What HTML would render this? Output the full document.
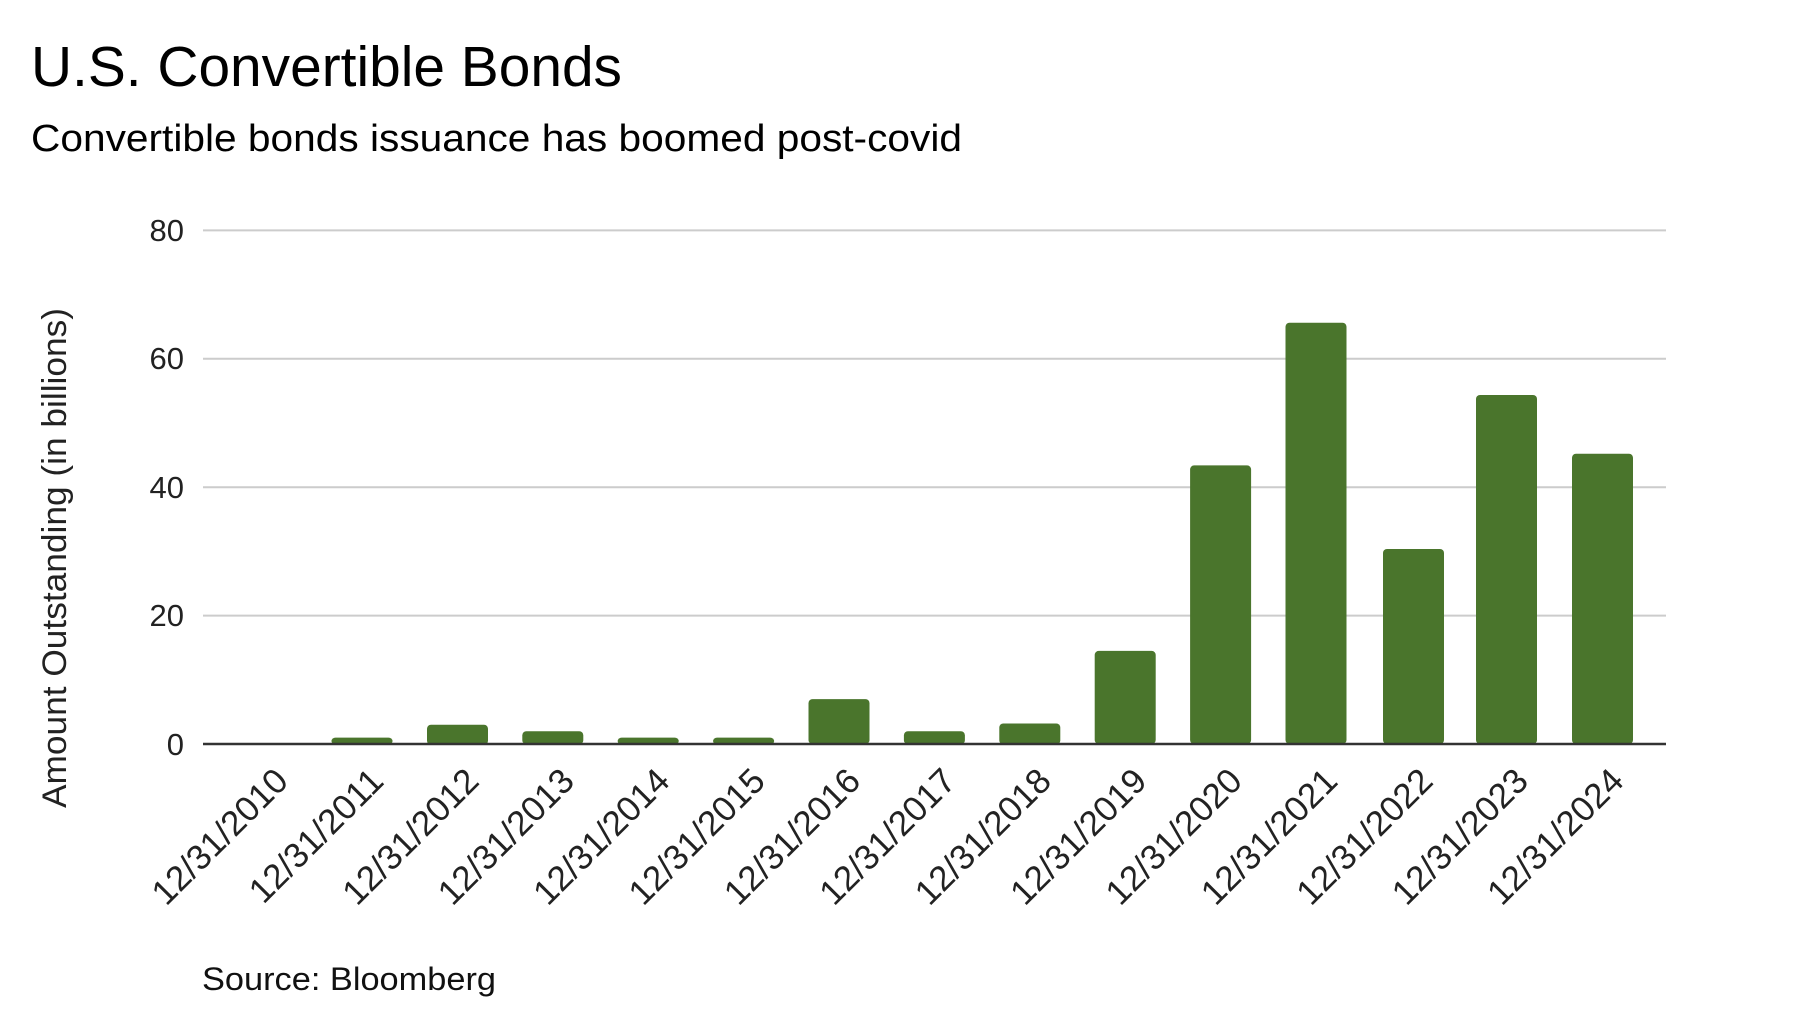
<!DOCTYPE html>
<html><head><meta charset="utf-8"><style>
html,body{margin:0;padding:0;background:#fff;}
svg{display:block;font-family:"Liberation Sans",sans-serif;}
</style></head><body>
<svg width="1804" height="1030" viewBox="0 0 1804 1030" xmlns="http://www.w3.org/2000/svg">
<text x="31" y="86" font-size="57" fill="#000" textLength="591" lengthAdjust="spacingAndGlyphs">U.S. Convertible Bonds</text>
<text x="31" y="151" font-size="38" fill="#000" textLength="931" lengthAdjust="spacingAndGlyphs">Convertible bonds issuance has boomed post-covid</text>
<g stroke="#cccccc" stroke-width="2">
<line x1="203" x2="1666" y1="230.4" y2="230.4"/>
<line x1="203" x2="1666" y1="358.8" y2="358.8"/>
<line x1="203" x2="1666" y1="487.2" y2="487.2"/>
<line x1="203" x2="1666" y1="615.6" y2="615.6"/>
</g>
<g font-size="31" fill="#222" text-anchor="end">
<text x="184" y="241">80</text>
<text x="184" y="369">60</text>
<text x="184" y="498">40</text>
<text x="184" y="626">20</text>
<text x="184" y="755">0</text>
</g>
<text transform="translate(66,558) rotate(-90)" font-size="34" fill="#222" text-anchor="middle" textLength="500" lengthAdjust="spacingAndGlyphs">Amount Outstanding (in billions)</text>
<g fill="#4a752c">
<rect x="331.5" y="737.6" width="61" height="7" rx="4"/>
<rect x="427" y="724.7" width="61" height="20" rx="4"/>
<rect x="522.3" y="731.2" width="61" height="13" rx="4"/>
<rect x="617.7" y="737.6" width="61" height="7" rx="4"/>
<rect x="713.1" y="737.6" width="61" height="7" rx="4"/>
<rect x="808.5" y="699.1" width="61" height="45" rx="4"/>
<rect x="903.9" y="731.2" width="61" height="13" rx="4"/>
<rect x="999.3" y="723.5" width="61" height="21" rx="4"/>
<rect x="1094.7" y="650.9" width="61" height="93.1" rx="4"/>
<rect x="1190.1" y="465.4" width="61" height="278.6" rx="4"/>
<rect x="1285.5" y="322.7" width="61" height="421.3" rx="4"/>
<rect x="1383" y="549" width="61" height="195" rx="4"/>
<rect x="1476" y="395" width="61" height="349" rx="4"/>
<rect x="1572" y="453.7" width="61" height="290.3" rx="4"/>
</g>
<line x1="203" x2="1666" y1="744" y2="744" stroke="#333" stroke-width="2.5"/>
<g font-size="35" fill="#222" text-anchor="end">
<text transform="translate(290,783) rotate(-45)">12/31/2010</text>
<text transform="translate(385.4,783) rotate(-45)">12/31/2011</text>
<text transform="translate(480.8,783) rotate(-45)">12/31/2012</text>
<text transform="translate(576.2,783) rotate(-45)">12/31/2013</text>
<text transform="translate(671.6,783) rotate(-45)">12/31/2014</text>
<text transform="translate(767,783) rotate(-45)">12/31/2015</text>
<text transform="translate(862.4,783) rotate(-45)">12/31/2016</text>
<text transform="translate(957.8,783) rotate(-45)">12/31/2017</text>
<text transform="translate(1053.2,783) rotate(-45)">12/31/2018</text>
<text transform="translate(1148.6,783) rotate(-45)">12/31/2019</text>
<text transform="translate(1244,783) rotate(-45)">12/31/2020</text>
<text transform="translate(1339.4,783) rotate(-45)">12/31/2021</text>
<text transform="translate(1434.8,783) rotate(-45)">12/31/2022</text>
<text transform="translate(1530.2,783) rotate(-45)">12/31/2023</text>
<text transform="translate(1625.6,783) rotate(-45)">12/31/2024</text>
</g>
<text x="202" y="990" font-size="32" fill="#111" textLength="294" lengthAdjust="spacingAndGlyphs">Source: Bloomberg</text>
</svg>
</body></html>
